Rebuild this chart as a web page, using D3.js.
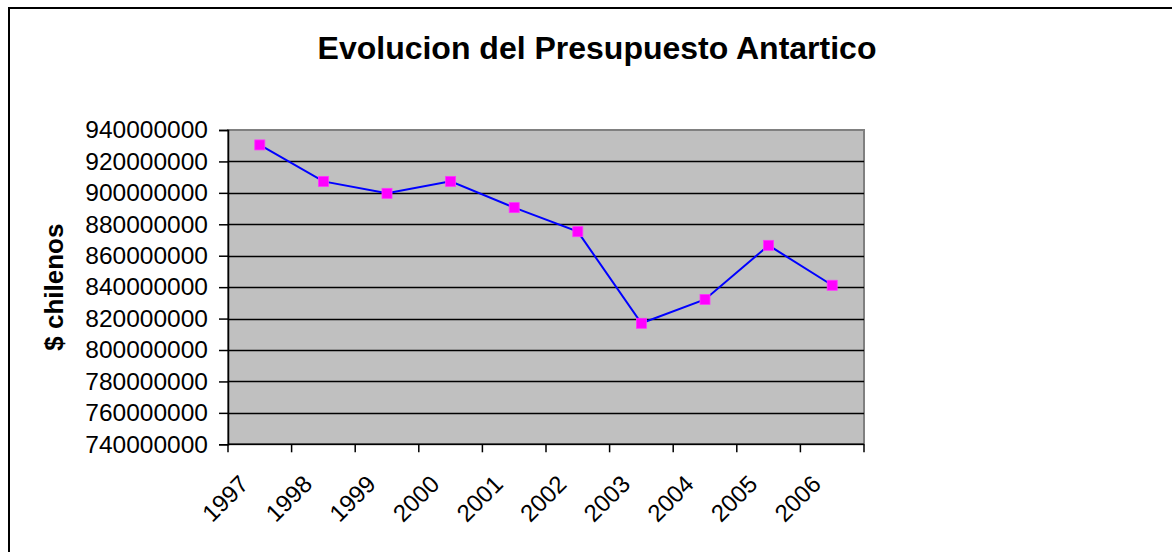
<!DOCTYPE html>
<html>
<head>
<meta charset="utf-8">
<script src="https://cdn.jsdelivr.net/npm/d3@7"></script>
<style>
  body { margin: 0; background: #fff; }
  svg { display: block; font-family: "Liberation Sans", Arial, sans-serif; }
</style>
</head>
<body>
<div id="chart"></div>
<script>
const years = ['1997', '1998', '1999', '2000', '2001', '2002', '2003', '2004', '2005', '2006'];
const budget = [930500000, 907300000, 899700000, 907300000, 890600000, 875300000, 817000000, 832200000, 866600000, 841200000];
const yTicks = [740000000, 760000000, 780000000, 800000000, 820000000, 840000000, 860000000, 880000000, 900000000, 920000000, 940000000];

const width = 1172;
const height = 552;
const plot = { left: 228, top: 130, right: 864, bottom: 444.3 };

const svg = d3.select('#chart')
    .append('svg')
    .attr('width', width)
    .attr('height', height);

// outer chart frame (runs off the page on right and bottom)
svg.append('rect')
    .attr('x', 9)
    .attr('y', 8)
    .attr('width', 1300)
    .attr('height', 700)
    .attr('fill', 'none')
    .attr('stroke', '#000')
    .attr('stroke-width', 2);

const x = d3.scaleBand()
    .domain(years)
    .range([plot.left, plot.right]);

const y = d3.scaleLinear()
    .domain([740000000, 940000000])
    .range([plot.bottom, plot.top]);

// plot background
svg.append('rect')
    .attr('x', plot.left)
    .attr('y', plot.top)
    .attr('width', plot.right - plot.left)
    .attr('height', plot.bottom - plot.top)
    .attr('fill', '#c0c0c0')
    .attr('stroke', '#808080')
    .attr('stroke-width', 2);

// gridlines
svg.append('g')
    .selectAll('line')
    .data(yTicks.slice(1, -1))
    .enter()
    .append('line')
    .attr('x1', plot.left)
    .attr('x2', plot.right)
    .attr('y1', d => Math.round(y(d)) + 0.5)
    .attr('y2', d => Math.round(y(d)) + 0.5)
    .attr('stroke', '#000')
    .attr('stroke-width', 1.5);

// y axis
const yAxis = svg.append('g')
    .attr('transform', `translate(${plot.left},0)`)
    .call(d3.axisLeft(y).tickValues(yTicks).tickSize(9).tickPadding(11).tickFormat(d3.format('d')));
yAxis.select('.domain').attr('stroke', '#000').attr('stroke-width', 1.5);
yAxis.selectAll('.tick line').attr('stroke', '#000').attr('stroke-width', 1.5);
yAxis.selectAll('.tick text')
    .attr('fill', '#000')
    .style('font-size', '24.5px');

// x axis: ticks between categories
const xAxis = svg.append('g')
    .attr('transform', `translate(0,${plot.bottom})`);
xAxis.append('line')
    .attr('x1', plot.left)
    .attr('x2', plot.right)
    .attr('stroke', '#000')
    .attr('stroke-width', 1.5);
xAxis.selectAll('.xtick')
    .data(years.concat(['end']))
    .enter()
    .append('line')
    .attr('x1', (d, i) => i < years.length ? x(d) : x.range()[1])
    .attr('x2', (d, i) => i < years.length ? x(d) : x.range()[1])
    .attr('y1', 0)
    .attr('y2', 8)
    .attr('stroke', '#000')
    .attr('stroke-width', 1.5);
xAxis.selectAll('.xlabel')
    .data(years)
    .enter()
    .append('text')
    .attr('transform', d => `translate(${x(d) + x.bandwidth() / 2 - 22},${29}) rotate(-45)`)
    .attr('text-anchor', 'end')
    .attr('dy', '0.72em')
    .style('font-size', '24px')
    .text(d => d);

// line
const line = d3.line()
    .x((d, i) => x(years[i]) + x.bandwidth() / 2)
    .y(d => y(d));

svg.append('path')
    .datum(budget)
    .attr('d', line)
    .attr('fill', 'none')
    .attr('stroke', '#0000ff')
    .attr('stroke-width', 2);

svg.append('g')
    .selectAll('rect')
    .data(budget)
    .enter()
    .append('rect')
    .attr('x', (d, i) => x(years[i]) + x.bandwidth() / 2 - 5)
    .attr('y', d => y(d) - 5)
    .attr('width', 10)
    .attr('height', 10)
    .attr('fill', '#ff00ff')
    .attr('stroke', '#ff33ff')
    .attr('stroke-width', 0.8);

// title
svg.append('text')
    .attr('x', 597)
    .attr('y', 59)
    .attr('text-anchor', 'middle')
    .style('font-size', '32px')
    .style('font-weight', 'bold')
    .text('Evolucion del Presupuesto Antartico');

// y axis title
svg.append('text')
    .attr('transform', `translate(63,${(plot.top + plot.bottom) / 2}) rotate(-90)`)
    .attr('text-anchor', 'middle')
    .style('font-size', '26px')
    .style('font-weight', 'bold')
    .text('$ chilenos');
</script>
</body>
</html>
